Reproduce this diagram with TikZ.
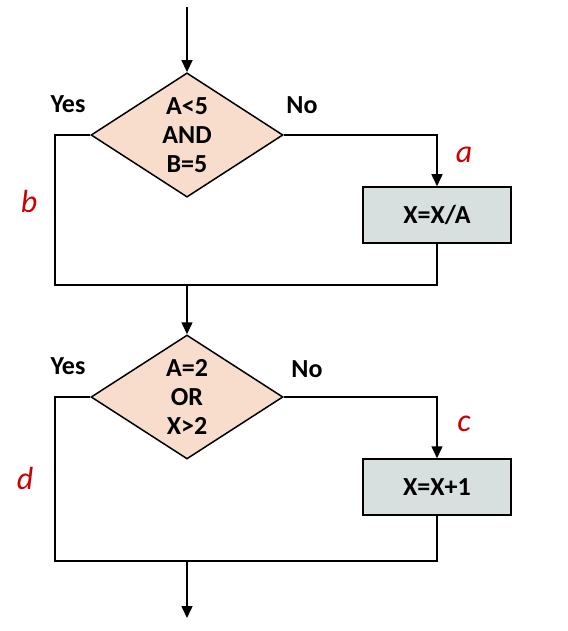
\documentclass[tikz,border=0pt]{standalone}
\usepackage{fontspec}
\setmainfont{Carlito}
\usetikzlibrary{shapes.geometric,arrows.meta}
\definecolor{peach}{RGB}{248,221,205}
\definecolor{boxgray}{RGB}{216,223,223}
\definecolor{casered}{RGB}{204,0,0}
\begin{document}
\begin{tikzpicture}[x=1pt,y=-1pt,line width=1.5pt,
  >={Triangle[length=12pt,width=11pt]},
  test/.style={diamond,draw,fill=peach,inner sep=0pt,minimum width=192pt,minimum height=124pt,align=center,font=\fontsize{26}{29}\selectfont\bfseries},
  act/.style={rectangle,draw,fill=boxgray,minimum width=148pt,minimum height=56pt,font=\fontsize{26}{29}\selectfont\bfseries},
  ans/.style={anchor=base,font=\fontsize{26}{29}\selectfont\bfseries},
  case/.style={anchor=base,text=casered,font=\fontsize{32}{38}\selectfont\itshape}]
\useasboundingbox (0,0) rectangle (567,631);
\coordinate (in) at (187,7);
\node[test] (t1) at (187,135) {A<5\\AND\\B=5};
\node[act] (s1) at (437,215) {X=X/A};
\coordinate (m1) at (187,285);
\coordinate (w1) at (55,285);
\node[test] (t2) at (187,397) {A=2\\OR\\X>2};
\node[act] (s2) at (437,487) {X=X+1};
\coordinate (m2) at (187,561);
\coordinate (w2) at (55,561);
\coordinate (out) at (187,618);

\draw[->] (in) -- (t1.north);
\draw[->] (t1.east) -| (s1.north);
\draw (t1.west) -| (w1) -| (s1.south);
\draw[->] (m1) -- (t2.north);
\draw[->] (t2.east) -| (s2.north);
\draw (t2.west) -| (w2) -| (s2.south);
\draw[->] (m2) -- (out);

\node[ans] (y1) at (68,113) {Yes};
\node[ans] (n1) at (302,114) {No};
\node[ans] (y2) at (68,374) {Yes};
\node[ans] (n2) at (307,377) {No};
\node[case] (ca) at (464,163) {a};
\node[case] (cb) at (29,212) {b};
\node[case] (cc) at (464,431) {c};
\node[case] (cd) at (25,489) {d};
\end{tikzpicture}
\end{document}
